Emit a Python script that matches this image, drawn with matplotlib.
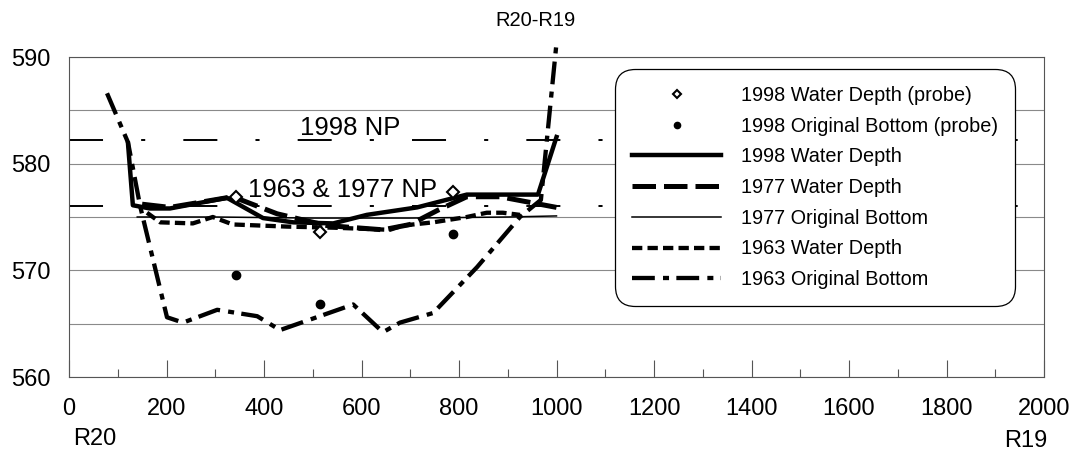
#cross section R20-R19, water depth and original bottom by survey year
import matplotlib
matplotlib.use('Agg')
import matplotlib.pyplot as plt
import matplotlib.ticker as mticker

# 1998 survey
wd1998_x = [121, 131, 166, 207, 324, 398, 460, 542, 611, 714, 816, 962, 1000]
wd1998_y = [581.9, 576.1, 575.8, 575.8, 576.8, 574.9, 574.5, 574.4, 575.2, 575.9, 577.1, 577.1, 582.5]

probe_x = [342, 515, 788]
probe_wd = [576.9, 573.6, 577.3]
probe_ob = [569.6, 566.8, 573.4]

# 1977 survey
wd1977_x = [150, 207, 336, 427, 529, 644, 700, 755, 816, 884, 1000]
wd1977_y = [576.2, 575.9, 576.9, 575.3, 574.2, 573.8, 574.3, 575.6, 576.9, 576.9, 575.9]

ob1977_x = [140, 300, 500, 700, 900, 1000]
ob1977_y = [575.0, 575.0, 574.9, 574.9, 575.0, 575.1]

# 1963 survey
wd1963_x = [160, 187, 254, 295, 336, 447, 542, 658, 685, 747, 816, 857, 890, 925]
wd1963_y = [575.4, 574.5, 574.4, 575.0, 574.3, 574.1, 574.0, 573.8, 574.2, 574.5, 575.0, 575.4, 575.4, 575.2]

ob1963_x = [78, 121, 146, 201, 234, 304, 386, 433, 583, 644, 679, 747, 837, 925, 968, 1000]
ob1963_y = [586.6, 582.0, 576.0, 565.6, 565.1, 566.3, 565.7, 564.4, 566.8, 564.2, 565.1, 566.0, 570.3, 575.0, 576.6, 591.3]

# normal pool levels
np1998 = 582.2
np1963_77 = 576.0

plt.rcParams['font.family'] = ['Liberation Sans', 'DejaVu Sans']

fig = plt.figure(figsize=(10.78, 4.53), dpi=100)
ax = fig.add_axes([69/1078, 1-377/453, (1044-69)/1078, (377-57)/453])

# pool lines, long dash - dot
np_dash = (17.5, 19.6, 2.1, 19.6)
ax.axhline(np1998, color='black', lw=1.4, dashes=np_dash, zorder=2)
ax.axhline(np1963_77, color='black', lw=1.4, dashes=np_dash, zorder=2)
ax.text(474, 582.7, '1998 NP', fontsize=18.5, va='baseline', zorder=3)
ax.text(367, 576.9, '1963 & 1977 NP', fontsize=18.5, va='baseline', zorder=3)

ax.plot(probe_x, probe_wd, ls='none', marker='D', ms=6, mfc='white', mec='black', mew=1.5,
        label='1998 Water Depth (probe)', zorder=6)
ax.plot(probe_x, probe_ob, ls='none', marker='o', ms=6, mfc='black', mec='black',
        label='1998 Original Bottom (probe)', zorder=6)
ax.plot(wd1998_x, wd1998_y, color='black', lw=3.2, label='1998 Water Depth', zorder=5)
ax.plot(wd1977_x, wd1977_y, color='black', lw=3.6, dashes=(4.7, 1.6), label='1977 Water Depth', zorder=4)
ax.plot(ob1977_x, ob1977_y, color='black', lw=1.1, label='1977 Original Bottom', zorder=4)
ax.plot(wd1963_x, wd1963_y, color='black', lw=3.1, dashes=(2.4, 1.2), label='1963 Water Depth', zorder=4)
ax.plot(ob1963_x, ob1963_y, color='black', lw=3.1, dashes=(5.3, 1.9, 1.4, 1.7),
        label='1963 Original Bottom', zorder=4, clip_on=False)

ax.set_xlim(0, 2000)
ax.set_ylim(560, 590)
ax.set_yticks([560, 570, 580, 590])
ax.yaxis.set_minor_locator(mticker.MultipleLocator(5))
ax.xaxis.set_major_locator(mticker.MultipleLocator(200))
ax.xaxis.set_minor_locator(mticker.MultipleLocator(100))
ax.grid(axis='y', which='both', color='#8a8a8a', lw=0.8, zorder=1)
ax.set_axisbelow(True)
ax.tick_params(axis='y', which='both', length=0, pad=13.5, labelsize=17)
ax.tick_params(axis='x', which='major', direction='in', length=12, width=0.8, color='#555555',
               pad=15, labelsize=17)
ax.tick_params(axis='x', which='minor', direction='in', length=6, width=0.8, color='#555555')
for s in ax.spines.values():
    s.set_color('#555555')
    s.set_linewidth(0.8)

# legend box fixed to 615..1015 x 69..308 px
leg = ax.legend(loc='upper left', bbox_to_anchor=(615/1078, 1-308/453, 400/1078, 239/453),
                bbox_transform=fig.transFigure, mode='expand',
                borderaxespad=0, fontsize=14.3, handlelength=4.5, handletextpad=1.0,
                borderpad=0.85, labelspacing=0.59, markerscale=0.75, framealpha=1,
                edgecolor='black', fancybox=True)
leg.get_frame().set_linewidth(0.9)
leg.get_frame().set_boxstyle('round,pad=0,rounding_size=1.0')
leg.set_zorder(10)

fig.text(0.497, 1-26/453, 'R20-R19', ha='center', va='baseline', fontsize=14.5)
fig.text(73/1078, 1-445/453, 'R20', ha='left', va='baseline', fontsize=17)
fig.text(1047/1078, 1-447/453, 'R19', ha='right', va='baseline', fontsize=17)

plt.savefig('out.png', dpi=100)
